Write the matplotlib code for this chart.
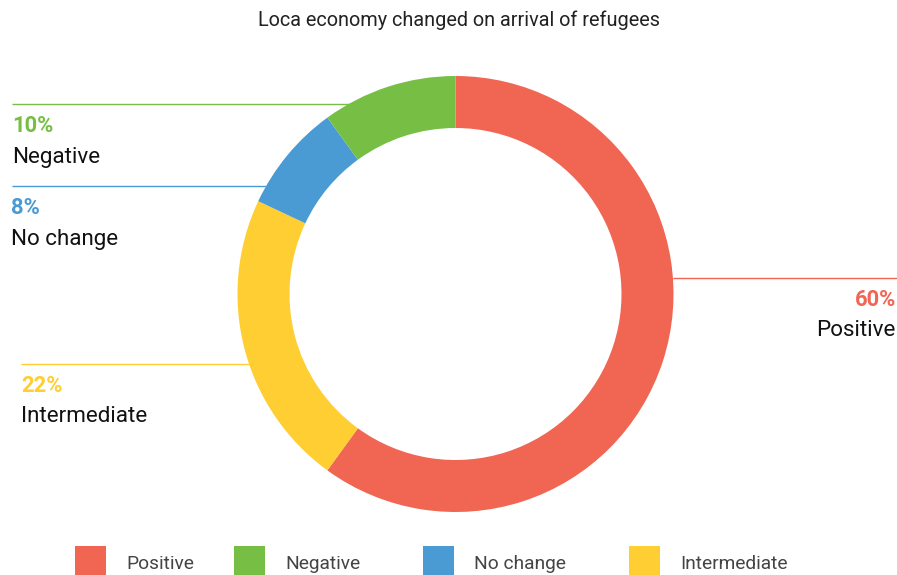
import numpy as np
import matplotlib
matplotlib.use("Agg")
import matplotlib.pyplot as plt
from matplotlib.patches import Rectangle

plt.rcParams['font.family'] = ['Roboto', 'DejaVu Sans']

# ---- data ----
title = "Loca economy changed on arrival of refugees"
categories = ["Positive", "Negative", "No change", "Intermediate"]
values = [60, 10, 8, 22]
colors = ["#F16553", "#76BF44", "#4A9AD4", "#FECE33"]
pct_labels = ["60%", "10%", "8%", "22%"]

W, H = 897, 575
fig = plt.figure(figsize=(W / 100, H / 100), dpi=100)
ax = fig.add_axes([0, 0, 1, 1])
ax.set_xlim(0, W)
ax.set_ylim(0, H)
ax.set_aspect('equal')
ax.axis('off')

def Y(y):
    return H - y

cx, cy = 455.5, 294.0
R, ring = 218.0, 52.0

# clockwise from 12 o'clock: Positive, Intermediate, No change, Negative
order = [0, 3, 2, 1]
ax.pie([values[i] for i in order], colors=[colors[i] for i in order],
       startangle=90, counterclock=False, center=(cx, Y(cy)), radius=R,
       wedgeprops=dict(width=ring, edgecolor='none', linewidth=0),
       frame=True)
ax.set_xlim(0, W)
ax.set_ylim(0, H)
ax.axis('off')

# ---- leader lines and labels ----
label_layout = {
    1: dict(ly=104, side='left', lx=12, tx=12),
    2: dict(ly=186, side='left', lx=12, tx=11),
    3: dict(ly=363.5, side='left', lx=21, tx=21),
    0: dict(ly=277.5, side='right', lx=897, tx=896),
}
for i, d in label_layout.items():
    dy = d['ly'] - cy
    dx = np.sqrt(R ** 2 - dy ** 2)
    if d['side'] == 'left':
        x_end = cx - dx
        ax.plot([d['lx'], x_end], [Y(d['ly']), Y(d['ly'])], color=colors[i], lw=1.0,
                solid_capstyle='butt')
        ha = 'left'
    else:
        x_end = cx + dx
        ax.plot([x_end, d['lx']], [Y(d['ly']), Y(d['ly'])], color=colors[i], lw=1.0,
                solid_capstyle='butt')
        ha = 'right'
    ax.text(d['tx'], Y(d['ly'] + 22), pct_labels[i], color=colors[i], fontsize=15.8,
            fontweight='bold', ha=ha, va='center')
    ax.text(d['tx'], Y(d['ly'] + 53), categories[i], color='#111111', fontsize=16.1,
            ha=ha, va='center')

# ---- title ----
ax.text(459, Y(20), title, fontsize=14.3, color='#222222', ha='center', va='center')

# ---- legend ----
leg_sq_x = [75, 234, 423, 629]
for i, cat in enumerate(categories):
    ax.add_patch(Rectangle((leg_sq_x[i], Y(576)), 31, 30, facecolor=colors[i],
                           edgecolor='none'))
    ax.text(leg_sq_x[i] + 51, Y(564), cat, fontsize=13.8, color='#444444',
            ha='left', va='center')

fig.savefig("out.png", dpi=100, facecolor='white')
